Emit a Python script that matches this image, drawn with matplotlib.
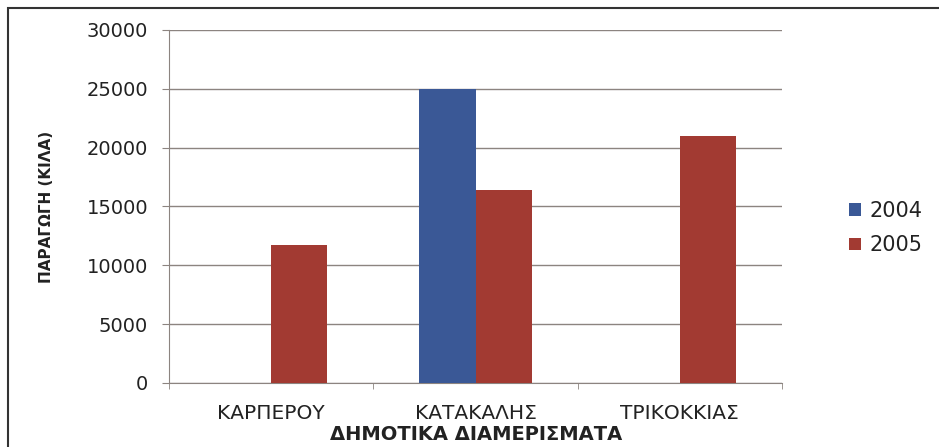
import matplotlib
matplotlib.use("Agg")
import matplotlib.pyplot as plt
import numpy as np
from matplotlib.patches import Rectangle

plt.rcParams['font.family'] = ['DejaVu Sans']

categories = ["ΚΑΡΠΕΡΟΥ", "ΚΑΤΑΚΑΛΗΣ", "ΤΡΙΚΟΚΚΙΑΣ"]
series_names = ["2004", "2005"]
values_2004 = [0, 25000, 0]
values_2005 = [11700, 16400, 21000]
y_ticks = [0, 5000, 10000, 15000, 20000, 25000, 30000]

colors = ["#3a5896", "#a23a32"]
grid_c = '#8c8480'

fig = plt.figure(figsize=(9.39, 4.47), dpi=100)
ax = fig.add_axes([0.18, 0.1432, 0.6528, 0.7897])

x = np.arange(len(categories))
w = 0.275
ax.bar(x - w/2, values_2004, w, color=colors[0], label=series_names[0], zorder=3)
ax.bar(x + w/2, values_2005, w, color=colors[1], label=series_names[1], zorder=3)

ax.set_xlim(-0.5, len(categories) - 0.5)
ax.set_ylim(0, 30000)
ax.set_yticks(y_ticks)
ax.set_yticklabels([str(v) for v in y_ticks], fontsize=14, color='#222222')
ax.grid(axis='y', color=grid_c, linewidth=1.0, zorder=0)
ax.set_axisbelow(True)

ax.set_xticks(x)
ax.set_xticklabels(categories, fontsize=14.5, color='#222222')
ax.tick_params(axis='x', length=0, pad=15)
ax.set_xticks(np.arange(len(categories) + 1) - 0.5, minor=True)
ax.tick_params(axis='x', which='minor', length=4, color=grid_c)
ax.tick_params(axis='y', length=5, color=grid_c, pad=10)

for s in ['top', 'right']:
    ax.spines[s].set_visible(False)
for s in ['left', 'bottom']:
    ax.spines[s].set_color(grid_c)

fig.text(47/939, 1 - 207/447, "ΠΑΡΑΓΩΓΗ (ΚΙΛΑ)", rotation=90, ha='center', va='center',
         fontsize=11, fontweight='bold', color='#222222',
         family=['Liberation Sans Narrow', 'DejaVu Sans'])
fig.text(476/939, 1 - 435/447, "ΔΗΜΟΤΙΚΑ ΔΙΑΜΕΡΙΣΜΑΤΑ", ha='center', va='center',
         fontsize=14, fontweight='bold', color='#222222')

leg = fig.legend(loc='center left', bbox_to_anchor=(0.884, 0.49), frameon=False,
                 fontsize=15, handlelength=0.6, handleheight=0.55, handletextpad=0.4,
                 labelspacing=0.7)
for t in leg.get_texts():
    t.set_color('#222222')

fig.patches.append(Rectangle((0.009, -0.01), 0.995, 0.992, transform=fig.transFigure,
                             fill=False, edgecolor='#333333', linewidth=1.5))

fig.savefig("out.png", dpi=100)
